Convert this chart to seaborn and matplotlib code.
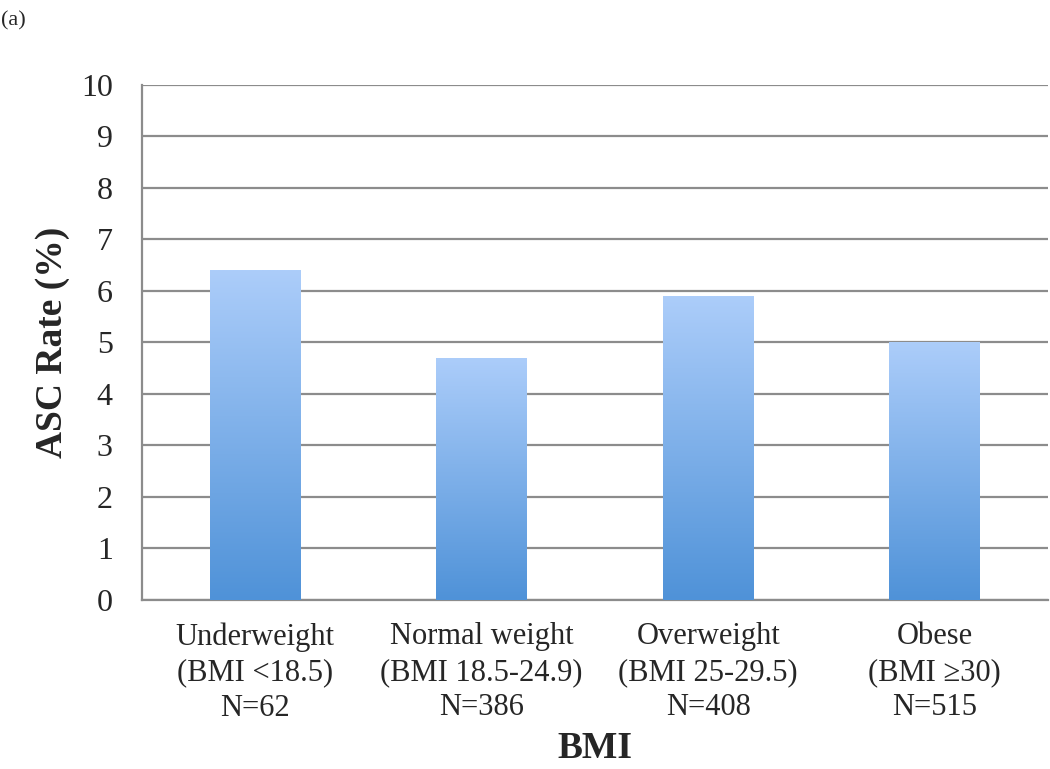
import matplotlib
matplotlib.use("Agg")
import matplotlib.pyplot as plt
import numpy as np
import pandas as pd
import seaborn as sns
from matplotlib.colors import LinearSegmentedColormap

categories = [
    "Underweight\n(BMI <18.5)\nN=62",
    "Normal weight\n(BMI 18.5-24.9)\nN=386",
    "Overweight\n(BMI 25-29.5)\nN=408",
    "Obese\n(BMI \u226530)\nN=515",
]
asc_rate = [6.4, 4.7, 5.9, 5.0]

df = pd.DataFrame({"bmi": categories, "rate": asc_rate})

sns.set_style("white")
plt.rcParams["font.family"] = ["Liberation Serif", "DejaVu Serif"]

fig = plt.figure(figsize=(10.5, 7.69), dpi=100)
ax = fig.add_axes([0.1352, 0.2198, 0.8628, 0.6697])

sns.barplot(data=df, x="bmi", y="rate", width=0.4, color="#7fb0ec", ax=ax, zorder=3)

# vertical gradient fill clipped to each bar
grad_cmap = LinearSegmentedColormap.from_list("blu", ["#4f92d8", "#accdfa"])
grad = np.linspace(0, 1, 256).reshape(-1, 1)
for patch in ax.patches:
    x0, y0 = patch.get_x(), patch.get_y()
    w, h = patch.get_width(), patch.get_height()
    patch.set_facecolor("none")
    patch.set_edgecolor("none")
    img = ax.imshow(grad, cmap=grad_cmap, origin="lower", aspect="auto",
                    extent=[x0, x0 + w, y0, y0 + h], zorder=3)
    img.set_clip_path(patch)

ax.set_xlim(-0.5, len(categories) - 0.5)
ax.set_ylim(0, 10)
ax.set_yticks(range(0, 11))
ax.yaxis.grid(True, color="#8c8c8c", linewidth=1.6, zorder=0)
ax.set_axisbelow(True)

# category boundaries carry the x ticks
ax.set_xticks(np.arange(-0.5, len(categories), 1.0))
ax.set_xticklabels([])
ax.set_xticks(range(len(categories)), minor=True)
ax.set_xticklabels(categories, minor=True, fontsize=22, linespacing=1.3)
ax.tick_params(axis="x", which="minor", length=0, pad=16)
ax.tick_params(axis="x", which="major", length=8, width=1.6, color="#8c8c8c", direction="out")
ax.tick_params(axis="y", length=10, width=1.6, color="#8c8c8c", direction="out", labelsize=23, pad=11)

for side in ["top", "right"]:
    ax.spines[side].set_visible(False)
for side in ["left", "bottom"]:
    ax.spines[side].set_color("#8c8c8c")
    ax.spines[side].set_linewidth(1.6)

ax.set_xlabel("BMI", fontsize=27, fontweight="bold", labelpad=6)
ax.set_ylabel("ASC Rate (%)", fontsize=27, fontweight="bold", labelpad=8)

fig.text(0.001, 0.985, "(a)", fontsize=16, ha="left", va="top")

fig.savefig("out.png", dpi=100)
